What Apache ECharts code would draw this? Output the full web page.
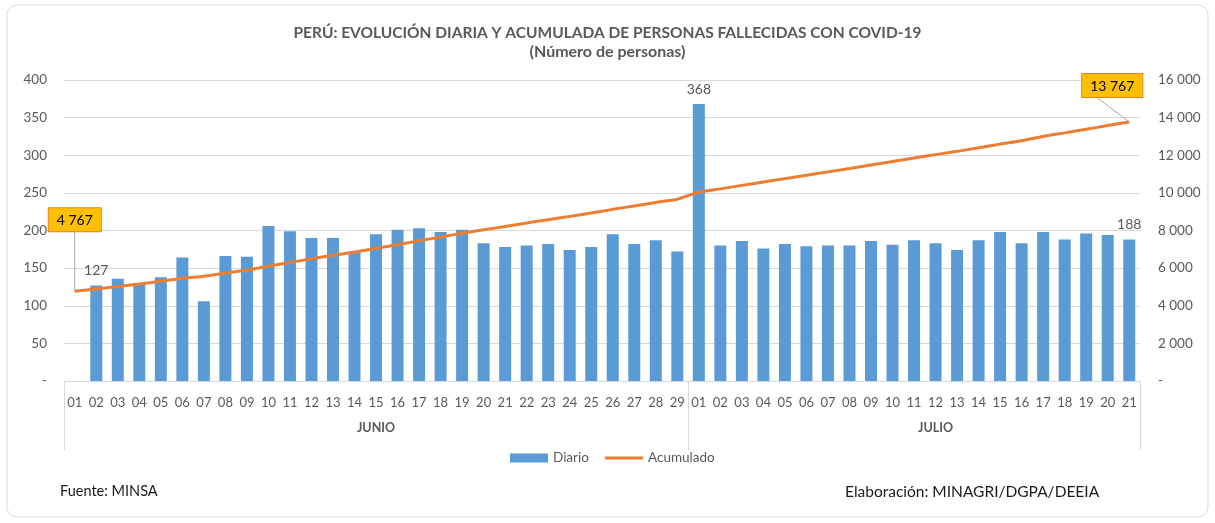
<!DOCTYPE html>
<html><head><meta charset="utf-8">
<script src="https://cdn.jsdelivr.net/npm/echarts@6/dist/echarts.min.js"></script>
<style>html,body{margin:0;padding:0;background:#fff}#c{width:1215px;height:523px}</style>
</head><body><div id="c"></div>
<script>
// ---- data ----
const juneDays = ['01','02','03','04','05','06','07','08','09','10','11','12','13','14','15','16','17','18','19','20','21','22','23','24','25','26','27','28','29'];
const julyDays = ['01','02','03','04','05','06','07','08','09','10','11','12','13','14','15','16','17','18','19','20','21'];
const monthNames = ['JUNIO', 'JULIO'];
const diarioJunio = [null,127,136,130,138,164,106,166,165,206,199,190,190,172,195,201,203,198,201,183,178,180,182,174,178,195,182,187,172];
const diarioJulio = [368,180,186,176,182,179,180,180,186,181,187,183,174,187,198,183,198,188,196,194,188];
const acumuladoJunio = [4767,4894,5030,5160,5298,5462,5568,5734,5899,6105,6304,6494,6684,6856,7051,7252,7455,7653,7854,8037,8215,8395,8577,8751,8929,9124,9306,9493,9665];
const acumuladoJulio = [10033,10213,10399,10575,10757,10936,11116,11296,11482,11663,11850,12033,12207,12394,12592,12775,13001,13189,13385,13579,13767];
const labeledBars = [1, 29, 49];

// ---- build ----
const days = juneDays.concat(julyDays);
const diario = diarioJunio.concat(diarioJulio);
const acumulado = acumuladoJunio.concat(acumuladoJulio);
const n = days.length;
const juneCount = juneDays.length;
const juneMid = Math.floor((juneCount - 1) / 2);
const julyMid = juneCount + Math.floor((julyDays.length - 1) / 2) + 1;
const fmtSpace = v => String(v).replace(/\B(?=(\d{3})+(?!\d))/g, ' ');
const FONT = 'Lato, "Liberation Sans", sans-serif';
const GRAY = '#595959';

const chart = echarts.init(document.getElementById('c'));
chart.setOption({
  animation: false,
  textStyle: { fontFamily: FONT },
  title: {
    text: 'PERÚ: EVOLUCIÓN DIARIA Y ACUMULADA DE PERSONAS FALLECIDAS CON COVID-19',
    subtext: '(Número de personas)',
    left: 'center', top: 20, itemGap: 3,
    textStyle: { fontFamily: FONT, fontSize: 15.5, fontWeight: 'bold', color: GRAY },
    subtextStyle: { fontFamily: FONT, fontSize: 16, fontWeight: 'bold', color: GRAY }
  },
  graphic: [
    { type: 'rect', shape: { x: 7, y: 5, width: 1201, height: 512, r: 10 }, style: { fill: 'none', stroke: '#d9d9d9', lineWidth: 1 }, z: -1 },
    { type: 'text', left: 60, top: 484, style: { text: 'Fuente: MINSA', font: '14.5px ' + FONT, fill: '#1a1a1a' } },
    { type: 'text', left: 845, top: 484, style: { text: 'Elaboración: MINAGRI/DGPA/DEEIA', font: '15.5px ' + FONT, fill: '#1a1a1a' } }
  ],
  legend: [
    { data: [{ name: 'Diario', icon: 'rect' }], left: 505, top: 446, itemWidth: 38, itemHeight: 9, itemGap: 4,
      textStyle: { fontSize: 13.5, color: GRAY, fontFamily: FONT } },
    { data: [{ name: 'Acumulado', icon: 'rect' }], left: 600, top: 446, itemWidth: 38, itemHeight: 3, itemGap: 4,
      textStyle: { fontSize: 13.5, color: GRAY, fontFamily: FONT } }
  ],
  grid: { left: 64, right: 75, top: 80, bottom: 142 },
  xAxis: [
    {
      type: 'category', data: days, position: 'bottom',
      axisLine: { lineStyle: { color: '#d9d9d9' } },
      axisTick: { show: true, length: 69, interval: (i) => i === 0 || i === juneCount, lineStyle: { color: '#d9d9d9' } },
      axisLabel: { interval: 0, color: GRAY, fontSize: 13, margin: 15, fontFamily: FONT }
    },
    {
      type: 'category', data: days, position: 'bottom',
      axisLine: { show: false }, axisTick: { show: false },
      axisLabel: {
        interval: (i) => i === juneMid || i === julyMid,
        formatter: (v, i) => i < juneCount ? monthNames[0] : monthNames[1],
        color: GRAY, fontSize: 12.5, fontWeight: 'bold', margin: 40, fontFamily: FONT
      }
    }
  ],
  yAxis: [
    {
      type: 'value', min: 0, max: 400, interval: 50,
      axisLine: { show: false }, axisTick: { show: false },
      splitLine: { lineStyle: { color: '#d9d9d9' } },
      axisLabel: { color: GRAY, fontSize: 13.5, margin: 17, formatter: v => v === 0 ? '-' : v, fontFamily: FONT }
    },
    {
      type: 'value', min: 0, max: 16000, interval: 2000,
      axisLine: { show: false }, axisTick: { show: false }, splitLine: { show: false },
      axisLabel: { color: GRAY, fontSize: 13.5, margin: 18, formatter: v => v === 0 ? '-' : fmtSpace(v), fontFamily: FONT }
    }
  ],
  series: [
    {
      name: 'Diario', type: 'bar', xAxisIndex: 0, yAxisIndex: 0, barWidth: 12,
      itemStyle: { color: '#5B9BD5' },
      data: diario.map((v, i) => labeledBars.includes(i)
        ? { value: v, label: { show: true, position: 'top', distance: 8, color: GRAY, fontSize: 14, fontFamily: FONT } }
        : v)
    },
    {
      name: 'Acumulado', type: 'line', xAxisIndex: 0, yAxisIndex: 1,
      smooth: 0.2, symbol: 'circle', symbolSize: 0, showSymbol: true,
      lineStyle: { color: '#ED7D31', width: 3 }, itemStyle: { color: '#ED7D31' },
      labelLine: { show: true, lineStyle: { color: '#a6a6a6', width: 1 } },
      labelLayout: (p) => {
        if (p.dataIndex === 0) return { dy: -55 };
        if (p.dataIndex === n - 1) return { dx: -17, dy: -20 };
        return {};
      },
      data: acumulado.map((v, i) => (i === 0 || i === n - 1)
        ? { value: v, label: { show: true, position: 'top', distance: 5, formatter: p => fmtSpace(p.value),
            color: '#000', fontSize: 14, fontFamily: FONT, backgroundColor: '#FFC000',
            borderColor: '#ED7D31', borderWidth: 1, padding: [5, 8, 4, 8] } }
        : v)
    }
  ]
});
</script>
</body></html>
